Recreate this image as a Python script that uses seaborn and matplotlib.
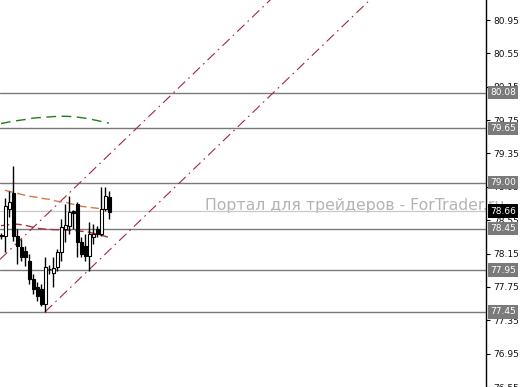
import numpy as np
import pandas as pd
import matplotlib
matplotlib.use("Agg")
import matplotlib.pyplot as plt
import matplotlib.transforms as mtransforms
import seaborn as sns

# ---- data ----
candle_idx = list(range(28))
opens  = [78.37, 78.36, 78.68, 78.88, 78.36, 78.23, 78.18, 78.06, 77.84, 77.75, 77.72, 77.545, 77.97, 77.92,
          77.99, 78.17, 78.45, 78.48, 78.66, 78.74, 78.29, 78.24, 78.12, 78.35, 78.44, 78.38, 78.68, 78.83]
highs  = [78.40, 78.82, 78.90, 79.20, 78.44, 78.32, 78.24, 78.14, 77.90, 77.81, 77.78, 78.11, 78.01, 78.11,
          78.20, 78.56, 78.74, 78.84, 78.67, 78.765, 78.35, 78.38, 78.53, 78.50, 78.48, 78.945, 78.945, 78.90]
lows   = [78.32, 78.17, 78.59, 78.30, 78.02, 78.06, 78.00, 77.78, 77.665, 77.58, 77.52, 77.45, 77.90, 77.75,
          77.94, 78.06, 78.29, 78.38, 78.44, 78.11, 78.11, 78.06, 77.94, 78.26, 78.35, 78.36, 78.66, 78.56]
closes = [78.36, 78.72, 78.77, 78.36, 78.24, 78.11, 78.11, 77.84, 77.72, 77.64, 77.545, 77.99, 77.96, 77.98,
          78.17, 78.47, 78.49, 78.645, 78.64, 78.29, 78.14, 78.12, 78.38, 78.38, 78.38, 78.68, 78.84, 78.645]

ma_orange_idx = list(range(1, 28))
ma_orange = [78.908, 78.896, 78.884, 78.872, 78.861, 78.849, 78.837, 78.831, 78.825, 78.813, 78.807, 78.801,
             78.789, 78.777, 78.771, 78.765, 78.753, 78.741, 78.729, 78.717, 78.711, 78.705, 78.699, 78.693,
             78.687, 78.681, 78.675]
ma_red_idx = list(range(28))
ma_red = [78.484, 78.490, 78.496, 78.502, 78.502, 78.496, 78.490, 78.478, 78.466, 78.454, 78.448, 78.442,
          78.442, 78.436, 78.436, 78.430, 78.430, 78.430, 78.424, 78.424, 78.418, 78.412, 78.406, 78.394,
          78.382, 78.370, 78.358, 78.341]
ma_green_idx = list(range(28))
ma_green = [79.709, 79.718, 79.727, 79.736, 79.743, 79.750, 79.757, 79.766, 79.773, 79.778, 79.781, 79.785,
            79.788, 79.792, 79.794, 79.796, 79.796, 79.794, 79.791, 79.786, 79.780, 79.773, 79.764, 79.755,
            79.745, 79.735, 79.724, 79.714]

# channel (two parallel lines): start index, start price, slope per bar
channel_starts_idx = [11, -0.25]
channel_starts_price = [77.45, 78.08]
channel_slope = 0.04605
channel_end_idx = 95

levels = [80.08, 79.65, 79.00, 78.45, 77.95, 77.45]
current_price = 78.66
yticks = [80.95, 80.55, 80.15, 79.75, 79.35, 78.95, 78.55, 78.15, 77.75, 77.35, 76.95, 76.55]
watermark = "Портал для трейдеров - ForTrader.ru"

# ---- figure ----
sns.set_style("white")
plt.rcParams['font.family'] = ['DejaVu Sans']
fig = plt.figure(figsize=(5.2, 3.87), dpi=100)
ax = fig.add_axes([0, 0, 486 / 520, 1])
ax.set_xlim(-0.25, 121.25)
ax.set_ylim(76.55, 81.19)

# horizontal levels
for lv in levels:
    ax.axhline(lv, color="#7a7a7a", lw=1.0, zorder=1)
ax.axhline(current_price, color="#c8c8c8", lw=0.9, zorder=1)

# channel
for si, sp in zip(channel_starts_idx, channel_starts_price):
    xs = np.array([si, channel_end_idx])
    ys = sp + channel_slope * (xs - si)
    ax.plot(xs, ys, color="#a3283f", lw=0.8, linestyle=(0, (9, 4, 1.5, 4)), zorder=2)

# moving averages via seaborn
sns.lineplot(x=ma_green_idx, y=ma_green, ax=ax, color="#1f7f1f", lw=1.0,
             linestyle=(0, (7, 4)), zorder=2)
sns.lineplot(x=ma_orange_idx, y=ma_orange, ax=ax, color="#d07a4a", lw=1.0,
             linestyle=(0, (6, 3)), zorder=2)
sns.lineplot(x=ma_red_idx, y=ma_red, ax=ax, color="#b0303a", lw=1.0,
             linestyle=(0, (6, 3)), zorder=2)

# candles
o = np.array(opens); c = np.array(closes)
ax.vlines(candle_idx, lows, highs, color="black", lw=1.0, zorder=3)
bull = c >= o
body_bottom = np.minimum(o, c)
body_h = np.maximum(np.abs(c - o), 0.008)
ax.bar(np.array(candle_idx)[bull], body_h[bull], bottom=body_bottom[bull], width=0.75,
       color="white", edgecolor="black", lw=0.8, zorder=4)
ax.bar(np.array(candle_idx)[~bull], body_h[~bull], bottom=body_bottom[~bull], width=0.75,
       color="black", edgecolor="black", lw=0.8, zorder=4)

# axes styling
for s in ["left", "top", "bottom"]:
    ax.spines[s].set_visible(False)
ax.spines["right"].set_visible(True)
ax.spines["right"].set_color("black")
ax.spines["right"].set_linewidth(1.0)
ax.set_xticks([])
ax.set_yticks(yticks)
ax.set_yticklabels([f"{t:.2f}" for t in yticks])
ax.yaxis.tick_right()
ax.tick_params(axis="y", direction="out", length=3, width=0.8, pad=2, labelsize=6.5,
               colors="black", labelcolor="#111111")
ax.set_xlabel(""); ax.set_ylabel("")

# watermark
ax.text(205 / 520, 1 - 210 / 387, watermark, transform=fig.transFigure, fontsize=11.3,
        color="#b4b4b4", ha="left", va="baseline", zorder=0.5, clip_on=False)

# price boxes
trans = mtransforms.blended_transform_factory(ax.transAxes, ax.transData)
for lv in levels:
    ax.text(1.008, lv, f"{lv:.2f}", transform=trans, fontsize=6.5, color="white",
            ha="left", va="center", zorder=6, clip_on=False,
            bbox=dict(boxstyle="square,pad=0.25", fc="#7a7a7a", ec="none"))
ax.text(1.008, current_price, f"{current_price:.2f}", transform=trans, fontsize=6.5, color="white",
        ha="left", va="center", zorder=7, clip_on=False,
        bbox=dict(boxstyle="square,pad=0.25", fc="black", ec="none"))

fig.savefig("out.png", dpi=100)
